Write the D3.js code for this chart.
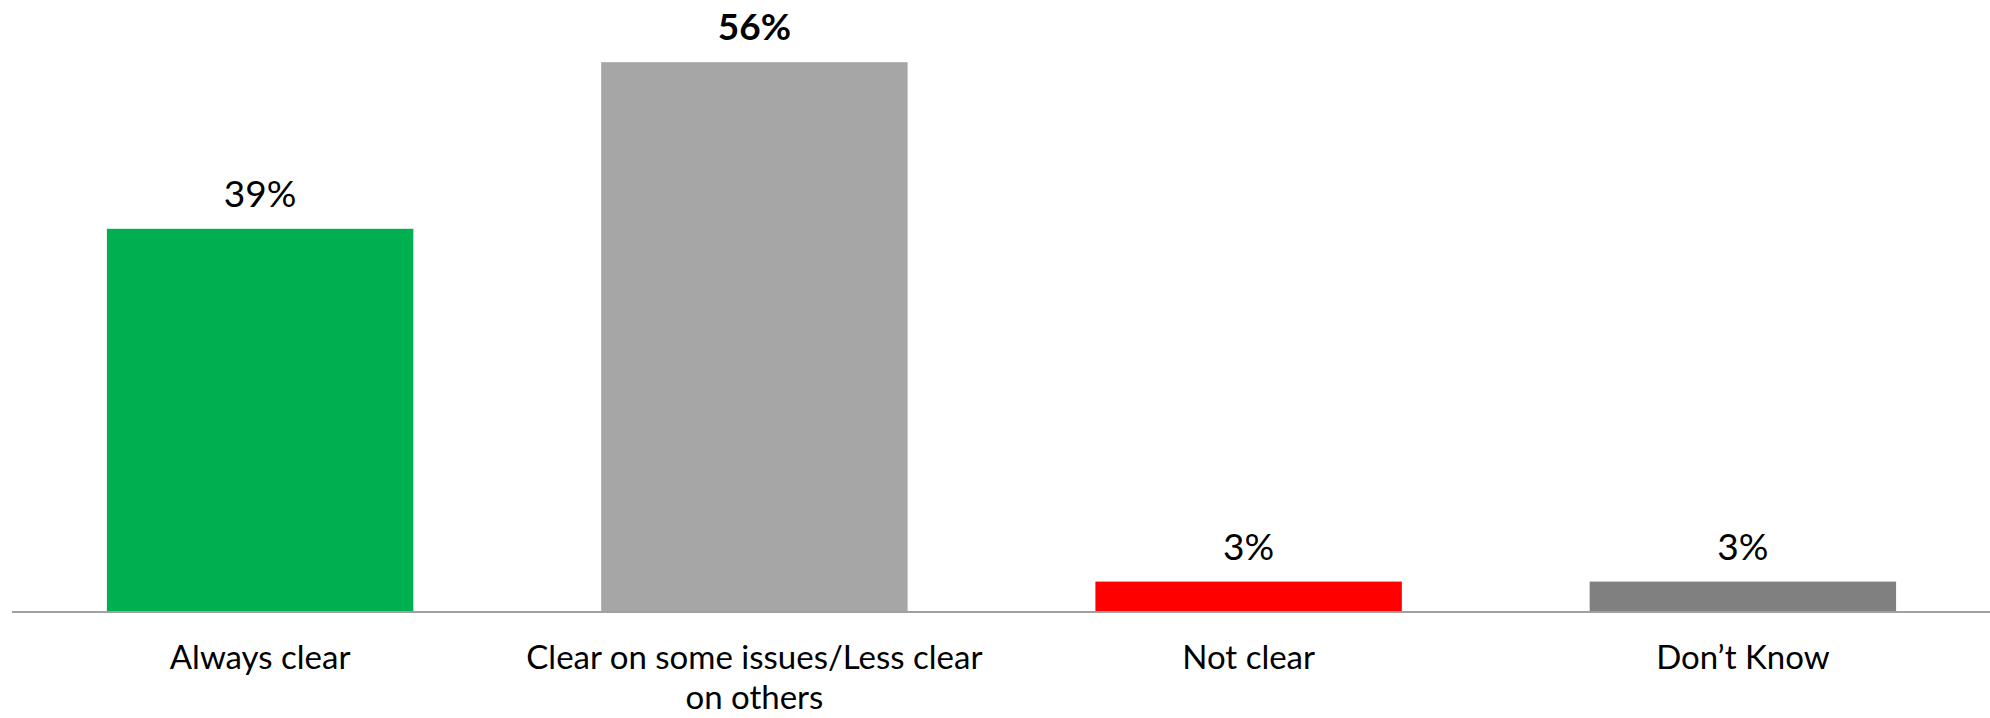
<!DOCTYPE html>
<html>
<head>
<meta charset="utf-8">
<script src="https://cdn.jsdelivr.net/npm/d3@7"></script>
<style>
  html, body { margin: 0; padding: 0; background: #ffffff; }
  svg { display: block; }
  text { font-family: "Lato", "Noto Sans", sans-serif; fill: #000; }
</style>
</head>
<body>
<svg id="chart" width="1990" height="718"></svg>
<script>
// Survey responses: how clear the position is
const categories = ["Always clear", "Clear on some issues/Less clear on others", "Not clear", "Don\u2019t Know"];
const values = [39, 56, 3, 3];
const barColors = ["#00B050", "#A6A6A6", "#FF0000", "#808080"];
const boldLabel = [false, true, false, false];

const width = 1990, height = 718;
const baseline = 611;

const svg = d3.select("#chart");

const x = d3.scaleBand()
  .domain(categories)
  .range([13, 1990])
  .paddingInner(0.38)
  .paddingOuter(0.19);

const y = d3.scaleLinear()
  .domain([0, 60])
  .range([baseline, baseline - 588]);

// Bars
svg.append("g").selectAll("rect")
  .data(categories)
  .join("rect")
  .attr("x", d => x(d))
  .attr("y", (d, i) => y(values[i]))
  .attr("width", x.bandwidth())
  .attr("height", (d, i) => y(0) - y(values[i]))
  .attr("fill", (d, i) => barColors[i]);

// Value labels
svg.append("g").selectAll("text")
  .data(categories)
  .join("text")
  .attr("x", d => x(d) + x.bandwidth() / 2)
  .attr("y", (d, i) => y(values[i]) - 22)
  .attr("text-anchor", "middle")
  .attr("font-size", 37)
  .attr("font-weight", (d, i) => boldLabel[i] ? 700 : 400)
  .text((d, i) => values[i] + "%");

// Category axis
const xAxis = svg.append("g")
  .attr("transform", `translate(0,${baseline + 1})`)
  .call(d3.axisBottom(x).tickSize(0).tickPadding(0));
xAxis.select(".domain")
  .attr("d", `M12,0H1990`)
  .attr("stroke", "#A0A0A0")
  .attr("stroke-width", 2);

xAxis.selectAll(".tick text")
  .attr("font-size", 33)
  .attr("font-family", "Lato, 'Noto Sans', sans-serif")
  .attr("fill", "#000")
  .attr("dy", null)
  .attr("y", 57)
  .call(wrap, x.step());

// Break long category names onto extra lines when wider than one band step
function wrap(sel, maxW) {
  sel.each(function () {
    const t = d3.select(this);
    const words = t.text().split(/\s+/);
    const yPos = +t.attr("y");
    t.text(null);
    let line = [];
    let lineNo = 0;
    let tspan = t.append("tspan").attr("x", 0).attr("y", yPos);
    for (const w of words) {
      line.push(w);
      tspan.text(line.join(" "));
      if (tspan.node().getComputedTextLength() > maxW && line.length > 1) {
        line.pop();
        tspan.text(line.join(" "));
        line = [w];
        lineNo++;
        tspan = t.append("tspan").attr("x", 0).attr("y", yPos + lineNo * 40).text(w);
      }
    }
  });
}
</script>
</body>
</html>
